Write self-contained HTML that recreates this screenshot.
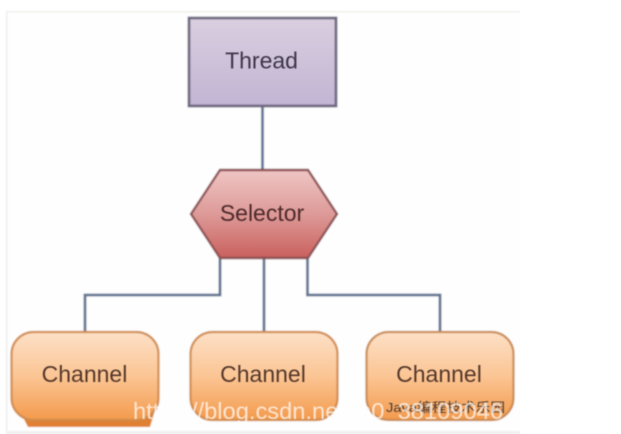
<!DOCTYPE html>
<html>
<head>
<meta charset="utf-8">
<style>
html,body{margin:0;padding:0;background:#fff;width:621px;height:434px;overflow:hidden}
svg{display:block}
text{font-family:"Liberation Sans","Noto Sans CJK SC",sans-serif}
</style>
</head>
<body>
<svg width="621" height="434" viewBox="0 0 621 434" xmlns="http://www.w3.org/2000/svg">
<defs>
<linearGradient id="p" x1="0" y1="0" x2="0" y2="1"><stop offset="0" stop-color="#d9cfe0"/><stop offset="1" stop-color="#c2b4d3"/></linearGradient>
<linearGradient id="r" x1="0" y1="0" x2="0" y2="1"><stop offset="0" stop-color="#eec5c3"/><stop offset="0.5" stop-color="#dd9a98"/><stop offset="1" stop-color="#c9605c"/></linearGradient>
<linearGradient id="o" x1="0" y1="0" x2="0" y2="1"><stop offset="0" stop-color="#fde0c6"/><stop offset="0.5" stop-color="#fbc594"/><stop offset="1" stop-color="#f39a4c"/></linearGradient>
<filter id="b" x="-5%" y="-5%" width="110%" height="110%"><feGaussianBlur stdDeviation="0.8"/></filter>
<filter id="t" x="-5%" y="-20%" width="110%" height="140%"><feGaussianBlur stdDeviation="0.55"/></filter>
</defs>
<rect x="0" y="0" width="621" height="434" fill="#fff"/>
<g filter="url(#b)">
<rect x="6" y="11" width="514" height="420" fill="#fefefe"/>
<rect x="6" y="11" width="514" height="1.500" fill="#efefec"/>
<rect x="6" y="11" width="1.500" height="420" fill="#eeeeee"/>
<rect x="6" y="431" width="514" height="3" fill="#f0f0f0"/>

<g fill="none" stroke="#5f7290" stroke-width="2.800">
<path d="M262.500 106V170"/>
<path d="M220 258V295H85V332"/>
<path d="M264 258V332"/>
<path d="M307.500 258V295H440V332"/>
</g>

<rect x="189" y="18" width="147" height="88" fill="url(#p)" stroke="#6d6880" stroke-width="2.800"/>
<polygon points="220,170 308,170 337,214 308,258 220,258 191,214" fill="url(#r)" stroke="#8c4f52" stroke-width="2.400"/>

<path d="M14 400L28 427H150L158 400Z" fill="#e08030"/>
<rect x="11.500" y="332" width="147" height="88" rx="22" fill="url(#o)" stroke="#d18b4c" stroke-width="2.200"/>
<rect x="190.500" y="332" width="147" height="88" rx="22" fill="url(#o)" stroke="#d18b4c" stroke-width="2.200"/>
<rect x="366.500" y="332" width="147" height="88" rx="22" fill="url(#o)" stroke="#c98a50" stroke-width="2.200"/>
</g>

<g filter="url(#t)">
<text x="261.500" y="68.500" font-size="23" text-anchor="middle" fill="#3d3548">Thread</text>
<text x="262" y="221" font-size="23" text-anchor="middle" fill="#4d2a2c">Selector</text>
<text x="84.500" y="382" font-size="23" text-anchor="middle" fill="#54382a">Channel</text>
<text x="263" y="382" font-size="23" text-anchor="middle" fill="#54382a">Channel</text>
<text x="439" y="382" font-size="23" text-anchor="middle" fill="#54382a">Channel</text>
<text x="386" y="412" font-size="13" textLength="119" lengthAdjust="spacingAndGlyphs" fill="#4a3a30">Java编程技术乐园</text>
<text x="133" y="419" font-size="23" textLength="370" lengthAdjust="spacingAndGlyphs" fill="#ffffff" fill-opacity="0.72">https://blog.csdn.net/m0_38109046</text>
</g>
</svg>
</body>
</html>
